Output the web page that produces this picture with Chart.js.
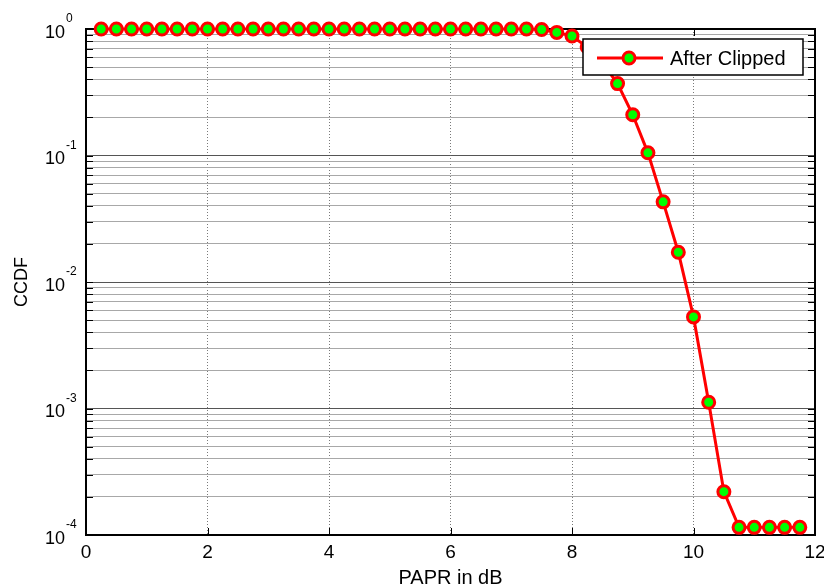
<!DOCTYPE html>
<html>
<head>
<meta charset="utf-8">
<script src="https://cdn.jsdelivr.net/npm/chart.js@4.4.1/dist/chart.umd.min.js"></script>
<style>
  html, body { margin: 0; padding: 0; background: #fff; }
  #c { display: block; }
</style>
</head>
<body>
<canvas id="c" width="824" height="588"></canvas>
<script>
// PAPR (dB) sample points and measured CCDF
const papr = [0.25, 0.5, 0.75, 1, 1.25, 1.5, 1.75, 2, 2.25, 2.5, 2.75, 3, 3.25, 3.5, 3.75, 4,
  4.25, 4.5, 4.75, 5, 5.25, 5.5, 5.75, 6, 6.25, 6.5, 6.75, 7, 7.25, 7.5, 7.75, 8,
  8.25, 8.5, 8.75, 9, 9.25, 9.5, 9.75, 10, 10.25, 10.5, 10.75, 11, 11.25, 11.5, 11.75];
const ccdf = [1, 1, 1, 1, 1, 1, 1, 1, 1, 1, 1, 1, 1, 1, 1, 1,
  1, 1, 1, 1, 1, 1, 1, 1, 1, 1, 1, 1, 1, 0.99, 0.94, 0.88,
  0.72, 0.54, 0.37, 0.21, 0.105, 0.043, 0.0172, 0.0053, 0.00112, 0.00022, 0.000115, 0.000115, 0.000115, 0.000115, 0.000115];

const xTicks = [0, 2, 4, 6, 8, 10, 12];
const yExponents = [0, -1, -2, -3, -4];
const seriesLabel = 'After Clipped';

const FONT = '"Liberation Sans", Arial, sans-serif';

function isDecade(v) {
  const l = Math.log10(v);
  return Math.abs(l - Math.round(l)) < 1e-9;
}

// box, inward ticks, y labels with exponents and the legend
const matlabFrame = {
  id: 'matlabFrame',
  beforeDatasetsDraw(chart) {
    const { ctx, chartArea: a, scales } = chart;
    ctx.save();
    ctx.strokeStyle = '#000';
    ctx.lineWidth = 1;
    ctx.beginPath();
    scales.y.ticks.forEach(t => {
      const y = Math.round(scales.y.getPixelForValue(t.value)) + 0.5;
      ctx.moveTo(a.left, y); ctx.lineTo(a.left + 7, y);
      ctx.moveTo(a.right, y); ctx.lineTo(a.right - 7, y);
    });
    scales.x.ticks.forEach(t => {
      const x = Math.round(scales.x.getPixelForValue(t.value)) + 0.5;
      ctx.moveTo(x, a.bottom); ctx.lineTo(x, a.bottom - 7);
      ctx.moveTo(x, a.top); ctx.lineTo(x, a.top + 7);
    });
    ctx.stroke();
    ctx.lineWidth = 2;
    ctx.strokeRect(a.left, a.top, a.right - a.left, a.bottom - a.top);
    ctx.restore();
  },
  afterDraw(chart) {
    const { ctx, chartArea: a, scales } = chart;
    ctx.save();
    ctx.fillStyle = '#000';
    yExponents.forEach(e => {
      const y = scales.y.getPixelForValue(Math.pow(10, e));
      ctx.font = '18px ' + FONT;
      ctx.textAlign = 'right';
      ctx.textBaseline = 'alphabetic';
      ctx.fillText('10', 65, y + 8.5);
      ctx.font = '12px ' + FONT;
      ctx.textAlign = 'left';
      ctx.fillText(String(e), 66, y - 7);
    });

    // legend
    const lx = a.right - 232, ly = a.top + 10, lw = 220, lh = 36;
    ctx.fillStyle = '#fff';
    ctx.fillRect(lx, ly, lw, lh);
    ctx.strokeStyle = '#000';
    ctx.lineWidth = 1.5;
    ctx.strokeRect(lx, ly, lw, lh);
    const cy = ly + 19;
    ctx.strokeStyle = '#ff0000';
    ctx.lineWidth = 3;
    ctx.beginPath();
    ctx.moveTo(lx + 14, cy); ctx.lineTo(lx + 80, cy);
    ctx.stroke();
    ctx.beginPath();
    ctx.arc(lx + 46, cy, 6, 0, Math.PI * 2);
    ctx.fillStyle = '#00ff00';
    ctx.fill();
    ctx.stroke();
    ctx.fillStyle = '#000';
    ctx.font = '20px ' + FONT;
    ctx.textAlign = 'left';
    ctx.textBaseline = 'alphabetic';
    ctx.fillText(seriesLabel, lx + 87, cy + 7);
    ctx.restore();
  }
};

new Chart(document.getElementById('c'), {
  type: 'line',
  data: {
    datasets: [{
      label: seriesLabel,
      data: papr.map((x, i) => ({ x: x, y: ccdf[i] })),
      borderColor: '#ff0000',
      borderWidth: 3,
      pointRadius: 6,
      pointBorderWidth: 3,
      pointBackgroundColor: '#00ff00',
      pointBorderColor: '#ff0000',
      tension: 0,
      clip: false
    }]
  },
  options: {
    responsive: false,
    animation: false,
    layout: { padding: { top: 29, right: 9, left: 0, bottom: 0 } },
    plugins: { legend: { display: false }, tooltip: { enabled: false } },
    scales: {
      x: {
        type: 'linear',
        min: 0,
        max: 12,
        afterBuildTicks: s => { s.ticks = xTicks.map(v => ({ value: v })); },
        afterFit: s => { s.height = 53; s.paddingLeft = 0; s.paddingRight = 0; },
        grid: { color: '#7a7a7a', lineWidth: 1, drawTicks: false },
        border: { display: false, dash: [1, 2] },
        ticks: { color: '#000', font: { family: FONT, size: 19 }, padding: 6, maxRotation: 0 },
        title: { display: true, text: 'PAPR in dB', color: '#000', font: { family: FONT, size: 20, lineHeight: 1 }, padding: 0 }
      },
      y: {
        type: 'logarithmic',
        min: 1e-4,
        max: 1,
        afterBuildTicks: s => {
          const t = [];
          for (let e = -4; e < 0; e++) {
            for (let m = 1; m < 10; m++) t.push({ value: m * Math.pow(10, e) });
          }
          t.push({ value: 1 });
          s.ticks = t;
        },
        afterFit: s => { s.width = 86; s.paddingTop = 0; s.paddingBottom = 0; },
        ticks: { display: false },
        grid: {
          color: c => (c.tick && isDecade(c.tick.value)) ? '#555555' : '#a8a8a8',
          lineWidth: 1,
          drawTicks: false
        },
        border: { display: false },
        title: { display: true, text: 'CCDF', color: '#000', font: { family: FONT, size: 18 }, padding: { top: 11, bottom: 0 } }
      }
    }
  },
  plugins: [matlabFrame]
});
</script>
</body>
</html>
